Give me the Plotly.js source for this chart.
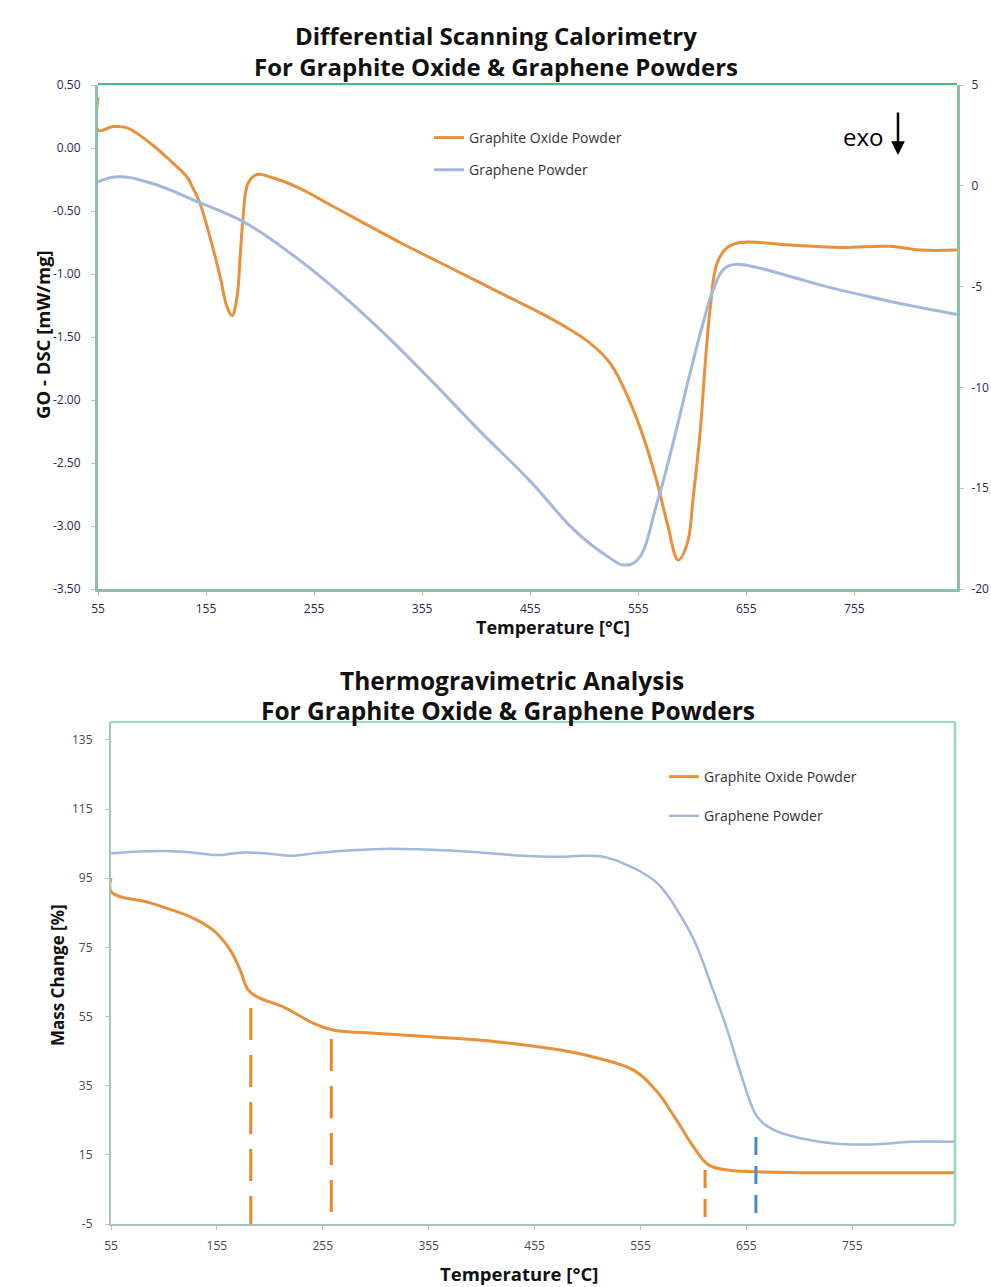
<!DOCTYPE html>
<html><head><meta charset="utf-8">
<script src="https://cdn.plot.ly/plotly-3.0.1.min.js"></script>
<style>html,body{margin:0;padding:0;background:#fff}#chart{width:991px;height:1287px}</style>
</head><body><div id="chart"></div>
<script>
// ---- DSC data ----
const dscTempGO = [55, 55.5, 68.9, 81.9, 103.1, 124.4, 137.4, 143.0, 149.4, 158.7, 168.0, 174.4, 179.1, 183.7, 186.5, 189.3, 193.9, 202.2, 214.3, 239.3, 269.8, 334.6, 385.6, 427.2, 473.5, 510.6, 529.1, 547.6, 559.6, 572.6, 581.9, 592.0, 600.3, 605.9, 612.4, 617.0, 621.7, 628.1, 637.4, 649.4, 695.7, 742.0, 788.3, 816.1, 850];
const dscGO = [0.40, 0.14, 0.17, 0.16, 0.04, -0.12, -0.23, -0.32, -0.44, -0.71, -1.02, -1.26, -1.33, -1.18, -0.87, -0.55, -0.28, -0.21, -0.23, -0.31, -0.45, -0.75, -0.97, -1.15, -1.35, -1.55, -1.71, -2.02, -2.29, -2.66, -2.98, -3.27, -3.14, -2.77, -2.24, -1.71, -1.26, -0.91, -0.79, -0.75, -0.77, -0.79, -0.78, -0.81, -0.81];
const dscTempGr = [55, 72.6, 103.1, 149.4, 189.3, 223.5, 269.8, 316.1, 362.4, 408.7, 455.0, 492.0, 510.6, 529.1, 541.1, 554.1, 572.6, 587.4, 603.1, 615.2, 624.4, 633.7, 643.0, 665.2, 695.7, 732.8, 760.6, 788.3, 816.1, 850];
const dscGr = [0.20, 0.45, 0.15, -0.84, -1.78, -2.97, -4.90, -7.13, -9.60, -12.18, -14.65, -16.88, -17.77, -18.47, -18.81, -18.56, -15.69, -12.72, -9.26, -6.78, -5.15, -4.16, -3.91, -4.06, -4.50, -5.05, -5.40, -5.74, -6.04, -6.39];

// ---- TGA data ----
const tgaTempGO = [55, 55.5, 91.9, 132.5, 151.4, 167.5, 176.9, 184.5, 193.0, 217.6, 245.9, 264.8, 297.0, 359.3, 422.7, 479.4, 510.6, 548.4, 569.2, 587.1, 605.1, 619.3, 637.2, 683.5, 755.4, 852];
const tgaGO = [95.1, 91.0, 87.9, 83.5, 80.0, 74.3, 68.5, 62.7, 60.7, 57.8, 53.1, 51.1, 50.3, 49.1, 47.6, 45.3, 43.3, 39.5, 33.8, 26.0, 17.3, 12.1, 10.6, 10.0, 9.8, 9.8];
const tgaTempGr = [55, 76.1, 107.6, 132.8, 154.9, 176.9, 202.2, 224.2, 246.2, 271.4, 312.4, 344.0, 375.4, 406.9, 444.7, 479.4, 498.3, 517.2, 530.0, 542.4, 557.0, 570.8, 580.0, 589.7, 605.4, 621.2, 637.0, 652.6, 665.3, 681.0, 706.2, 737.7, 778.7, 810.2, 851.1];
const tgaGr = [102.2, 102.7, 102.9, 102.4, 101.7, 102.4, 102.2, 101.5, 102.2, 102.9, 103.5, 103.4, 103.0, 102.4, 101.5, 101.2, 101.5, 101.4, 100.4, 98.8, 96.6, 93.6, 90.3, 85.8, 77.2, 64.6, 51.1, 35.7, 26.0, 22.2, 19.8, 18.3, 18.1, 18.8, 18.8];

// ---- marker lines (TGA) ----
const markerTemps = [187, 263, 616, 664];
const markerTops = [57.5, 48.5, 10.6, 20.2];
const markerBottoms = [-5, -3.3, -3.3, -3.3];
const markerSeries = ['GO', 'GO', 'GO', 'Gr'];

// ---- ticks ----
const tempTicks = [55, 155, 255, 355, 455, 555, 655, 755];
const dscLeftTicks = [0.5, 0, -0.5, -1, -1.5, -2, -2.5, -3, -3.5];
const dscLeftText = ['0.50', '0.00', '-0.50', '-1.00', '-1.50', '-2.00', '-2.50', '-3.00', '-3.50'];
const dscRightTicks = [5, 0, -5, -10, -15, -20];
const dscRightText = ['5', '0', '-5', '-10', '-15', '-20'];
const tgaTicks = [-5, 15, 35, 55, 75, 95, 115, 135];
const tgaText = ['-5', '15', '35', '55', '75', '95', '115', '135'];

const nameGO = 'Graphite Oxide Powder';
const nameGr = 'Graphene Powder';

const W = 991, H = 1287;
const px = v => v / W;
const py = v => 1 - v / H;

const ORANGE = '#E9913A';
const BLUE = '#A2B8DD';
const FONT = '"Open Sans", Lato, sans-serif';

const traces = [
  {x: dscTempGO, y: dscGO, name: nameGO, type: 'scatter', mode: 'lines', xaxis: 'x', yaxis: 'y',
   line: {color: ORANGE, width: 3, shape: 'spline', smoothing: 1.1}, legend: 'legend', legendgroup: 'a'},
  {x: dscTempGr, y: dscGr, name: nameGr, type: 'scatter', mode: 'lines', xaxis: 'x', yaxis: 'y2',
   line: {color: BLUE, width: 3, shape: 'spline', smoothing: 1.2}, legend: 'legend', legendgroup: 'b'},
  {x: tgaTempGO, y: tgaGO, name: nameGO, type: 'scatter', mode: 'lines', xaxis: 'x2', yaxis: 'y3',
   line: {color: ORANGE, width: 3, shape: 'spline', smoothing: 1.1}, legend: 'legend2', legendgroup: 'c'},
  {x: tgaTempGr, y: tgaGr, name: nameGr, type: 'scatter', mode: 'lines', xaxis: 'x2', yaxis: 'y3',
   line: {color: BLUE, width: 2.5, shape: 'spline', smoothing: 1.1}, legend: 'legend2', legendgroup: 'd'}
];

markerTemps.forEach((t, i) => {
  const isGO = markerSeries[i] === 'GO';
  const big = i < 2;
  traces.push({
    x: [t, t], y: [markerTops[i], markerBottoms[i]], type: 'scatter', mode: 'lines',
    xaxis: 'x2', yaxis: 'y3', showlegend: false, hoverinfo: 'skip',
    line: {color: isGO ? '#E8862C' : '#4C88C8', width: 3, dash: big ? '32px,15px' : '18px,11px'}
  });
});

const axisCommon = {
  showgrid: false, zeroline: false, ticks: 'outside', ticklen: 4, tickwidth: 1,
  tickcolor: '#c0c0c0', showline: true, fixedrange: true
};

const ann = (text, x, y, size, extra) => Object.assign({
  text: text, xref: 'paper', yref: 'paper', x: px(x), y: py(y), xanchor: 'center', yanchor: 'middle',
  showarrow: false, font: {size: size, weight: 'bold', color: '#111', family: FONT}
}, extra || {});

const layout = {
  width: W, height: H, margin: {l: 0, r: 0, t: 0, b: 0},
  paper_bgcolor: '#fff', plot_bgcolor: '#fff',
  font: {family: FONT},
  xaxis: Object.assign({}, axisCommon, {
    domain: [px(98), px(957)], range: [55, 850], anchor: 'y',
    tickvals: tempTicks, ticktext: tempTicks.map(String),
    linecolor: '#8CBFA3', linewidth: 3, ticklabelstandoff: 3,
    tickfont: {size: 12, color: '#1F2A4D', family: FONT}
  }),
  yaxis: Object.assign({}, axisCommon, {
    domain: [py(589), py(85)], range: [-3.5, 0.5], anchor: 'x',
    tickvals: dscLeftTicks, ticktext: dscLeftText,
    linecolor: '#8CBFA3', linewidth: 3, ticklabelstandoff: 8,
    tickfont: {size: 12, color: '#1F2A4D', family: FONT}
  }),
  yaxis2: Object.assign({}, axisCommon, {
    overlaying: 'y', side: 'right', anchor: 'x', range: [-20, 5],
    tickvals: dscRightTicks, ticktext: dscRightText,
    linecolor: '#8CBFA3', linewidth: 3, ticklabelstandoff: 5,
    tickfont: {size: 12, color: '#1F2A4D', family: FONT}
  }),
  xaxis2: Object.assign({}, axisCommon, {
    domain: [px(111), px(955)], range: [55, 852], anchor: 'y3',
    tickvals: tempTicks, ticktext: tempTicks.map(String),
    linecolor: '#A8C4BA', linewidth: 2, ticklabelstandoff: 6,
    tickfont: {size: 12, color: '#4A4A4A', family: FONT}
  }),
  yaxis3: Object.assign({}, axisCommon, {
    domain: [py(1224), py(722)], range: [-5, 140.2], anchor: 'x2',
    tickvals: tgaTicks, ticktext: tgaText,
    linecolor: '#A8C4BA', linewidth: 2, ticklabelstandoff: 10,
    tickfont: {size: 12, color: '#4A4A4A', family: FONT}
  }),
  legend: {
    x: px(429), y: py(122), xanchor: 'left', yanchor: 'top', bgcolor: 'rgba(0,0,0,0)',
    traceorder: 'grouped', tracegroupgap: 11, font: {size: 14, color: '#333', family: FONT}
  },
  legend2: {
    x: px(664), y: py(761), xanchor: 'left', yanchor: 'top', bgcolor: 'rgba(0,0,0,0)',
    traceorder: 'grouped', tracegroupgap: 18, font: {size: 14, color: '#333', family: FONT}
  },
  shapes: [
    {type: 'line', xref: 'paper', yref: 'paper', x0: px(98), x1: px(957), y0: py(84), y1: py(84),
     line: {color: '#3DBF7A', width: 2}},
    {type: 'line', xref: 'paper', yref: 'paper', x0: px(111), x1: px(955), y0: py(722), y1: py(722),
     line: {color: '#8EDCB9', width: 2}},
    {type: 'line', xref: 'paper', yref: 'paper', x0: px(955), x1: px(955), y0: py(722), y1: py(1224),
     line: {color: '#8EDCB9', width: 2.5}}
  ],
  annotations: [
    ann('Differential Scanning Calorimetry', 496, 35, 24),
    ann('For Graphite Oxide &amp; Graphene Powders', 496, 66, 24),
    ann('Thermogravimetric Analysis', 512, 680, 24.5),
    ann('For Graphite Oxide &amp; Graphene Powders', 508, 710, 24.5),
    ann('GO - DSC [mW/mg]', 42, 335, 18.5, {textangle: -90}),
    ann('Temperature [°C]', 553, 627, 18),
    ann('Mass Change [%]', 57, 975, 17, {textangle: -90}),
    ann('Temperature [°C]', 519, 1273, 18.5),
    ann('exo', 863, 137, 24, {font: {size: 24, color: '#000', family: FONT}}),
    {text: '', xref: 'paper', yref: 'paper', x: px(898), y: py(155), ax: 0, ay: -44, axref: 'pixel', ayref: 'pixel',
     showarrow: true, arrowhead: 2, arrowsize: 1.1, arrowwidth: 2.5, arrowcolor: '#000'}
  ]
};

Plotly.newPlot('chart', traces, layout, {staticPlot: true, displayModeBar: false});
</script>
</body></html>
